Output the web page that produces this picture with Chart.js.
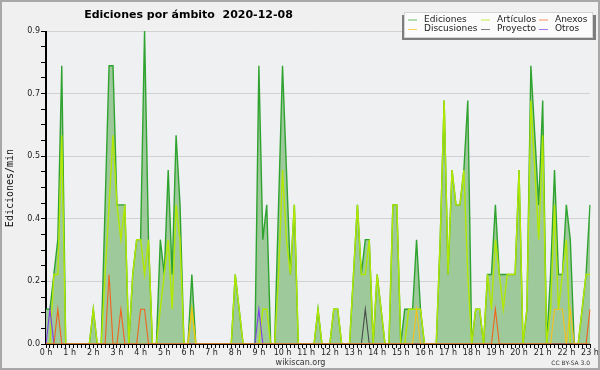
<!DOCTYPE html>
<html>
<head>
<meta charset="utf-8">
<script src="https://cdn.jsdelivr.net/npm/chart.js@4.4.1/dist/chart.umd.min.js"></script>
<style>
  html, body { margin: 0; padding: 0; background: #f0f0f0; }
  canvas { display: block; }
</style>
</head>
<body>
<canvas id="edicionesChart" width="600" height="370"></canvas>
<script>
const chartTitle = "Ediciones por ámbito  2020-12-08";
const yAxisTitle = "Ediciones/min";
const hourLabels = ['0 h', '1 h', '2 h', '3 h', '4 h', '5 h', '6 h', '7 h', '8 h', '9 h', '10 h', '11 h',
  '12 h', '13 h', '14 h', '15 h', '16 h', '17 h', '18 h', '19 h', '20 h', '21 h', '22 h', '23 h'];
const seriesNames = ['Ediciones', 'Artículos', 'Anexos', 'Discusiones', 'Proyecto', 'Otros'];

// una muestra cada 10 minutos, 0:00 -> 23:00 (ediciones por minuto)
const ediciones = [
  0.1, 0.1, 0.2, 0.3, 0.8, 0,   0, 0, 0, 0, 0, 0,
  0.1, 0, 0, 0.4, 0.8, 0.8,     0.4, 0.4, 0.4, 0, 0.2, 0.3,
  0.3, 0.9, 0.3, 0, 0, 0.3,     0.2, 0.5, 0.2, 0.6, 0.4, 0,
  0, 0.2, 0, 0, 0, 0,           0, 0, 0, 0, 0, 0,
  0.2, 0.1, 0, 0, 0, 0,         0.8, 0.3, 0.4, 0, 0, 0.4,
  0.8, 0.5, 0.2, 0.4, 0, 0,     0, 0, 0, 0.1, 0, 0,
  0, 0.1, 0.1, 0, 0, 0,         0.2, 0.4, 0.2, 0.3, 0.3, 0,
  0.2, 0.1, 0, 0, 0.4, 0.4,     0, 0.1, 0.1, 0.1, 0.3, 0.1,
  0, 0, 0, 0, 0.3, 0.7,         0.2, 0.5, 0.4, 0.4, 0.5, 0.7,
  0, 0.1, 0.1, 0, 0.2, 0.2,     0.4, 0.2, 0.2, 0.2, 0.2, 0.2,
  0.5, 0, 0.1, 0.8, 0.6, 0.4,   0.7, 0, 0.2, 0.5, 0.2, 0.2,
  0.4, 0.3, 0, 0, 0.1, 0.2, 0.4
];
const articulos = [
  0, 0, 0.2, 0.2, 0.6, 0,       0, 0, 0, 0, 0, 0,
  0.1, 0, 0, 0.2, 0.4, 0.6,     0.4, 0.3, 0.4, 0, 0.2, 0.3,
  0.3, 0.2, 0.3, 0, 0, 0.1,     0.2, 0.3, 0.1, 0.4, 0.3, 0,
  0, 0.1, 0, 0, 0, 0,           0, 0, 0, 0, 0, 0,
  0.2, 0.1, 0, 0, 0, 0,         0, 0.1, 0.1, 0, 0, 0.2,
  0.5, 0.3, 0.2, 0.4, 0, 0,     0, 0, 0, 0.1, 0, 0,
  0, 0.1, 0.1, 0, 0, 0,         0.2, 0.4, 0.2, 0.2, 0.3, 0,
  0.2, 0.1, 0, 0, 0.4, 0.4,     0, 0, 0.1, 0.1, 0.1, 0.1,
  0, 0, 0, 0, 0.3, 0.7,         0.2, 0.5, 0.4, 0.4, 0.5, 0.2,
  0, 0.1, 0.1, 0, 0.2, 0.1,     0.3, 0.2, 0.1, 0.2, 0.2, 0.2,
  0.5, 0, 0.1, 0.7, 0.5, 0.3,   0.6, 0, 0.1, 0.4, 0.1, 0.2,
  0.3, 0, 0, 0, 0.1, 0.2, 0.2
];
const anexos = [
  0, 0, 0, 0.1, 0, 0,   0, 0, 0, 0, 0, 0,
  0, 0, 0, 0, 0.2, 0,   0, 0.1, 0, 0, 0, 0,
  0.1, 0.1, 0, 0, 0, 0, 0, 0, 0, 0, 0, 0,
  0, 0, 0, 0, 0, 0,     0, 0, 0, 0, 0, 0,
  0, 0, 0, 0, 0, 0,     0, 0, 0, 0, 0, 0,
  0, 0, 0, 0, 0, 0,     0, 0, 0, 0, 0, 0,
  0, 0, 0, 0, 0, 0,     0, 0, 0, 0, 0, 0,
  0, 0, 0, 0, 0, 0,     0, 0, 0, 0, 0, 0,
  0, 0, 0, 0, 0, 0,     0, 0, 0, 0, 0, 0,
  0, 0, 0, 0, 0, 0,     0.1, 0, 0, 0, 0, 0,
  0, 0, 0, 0, 0, 0,     0, 0, 0, 0, 0, 0,
  0, 0, 0, 0, 0, 0, 0.1
];
const discusiones = [
  0, 0, 0, 0, 0, 0,     0, 0, 0, 0, 0, 0,
  0, 0, 0, 0, 0, 0,     0, 0, 0, 0, 0, 0,
  0, 0, 0, 0, 0, 0,     0, 0, 0, 0, 0, 0,
  0, 0.1, 0, 0, 0, 0,   0, 0, 0, 0, 0, 0,
  0, 0, 0, 0, 0, 0,     0, 0, 0, 0, 0, 0,
  0, 0, 0, 0, 0, 0,     0, 0, 0, 0, 0, 0,
  0, 0, 0, 0, 0, 0,     0, 0, 0, 0, 0, 0,
  0, 0, 0, 0, 0, 0,     0, 0, 0, 0, 0.1, 0,
  0, 0, 0, 0, 0, 0,     0, 0, 0, 0, 0, 0,
  0, 0, 0, 0, 0, 0,     0, 0, 0, 0, 0, 0,
  0, 0, 0, 0, 0, 0,     0, 0, 0, 0.1, 0.1, 0.1,
  0, 0.1, 0, 0, 0, 0, 0
];
const proyecto = [
  0, 0, 0, 0, 0, 0,     0, 0, 0, 0, 0, 0,
  0, 0, 0, 0, 0, 0,     0, 0, 0, 0, 0, 0,
  0, 0, 0, 0, 0, 0,     0, 0, 0, 0, 0, 0,
  0, 0, 0, 0, 0, 0,     0, 0, 0, 0, 0, 0,
  0, 0, 0, 0, 0, 0,     0, 0, 0, 0, 0, 0,
  0, 0, 0, 0, 0, 0,     0, 0, 0, 0, 0, 0,
  0, 0, 0, 0, 0, 0,     0, 0, 0, 0.1, 0, 0,
  0, 0, 0, 0, 0, 0,     0, 0, 0, 0, 0, 0,
  0, 0, 0, 0, 0, 0,     0, 0, 0, 0, 0, 0,
  0, 0, 0, 0, 0, 0,     0, 0, 0, 0, 0, 0,
  0, 0, 0, 0, 0, 0,     0, 0, 0, 0, 0, 0,
  0, 0, 0, 0, 0, 0, 0
];
const otros = [
  0, 0.1, 0, 0, 0, 0,   0, 0, 0, 0, 0, 0,
  0, 0, 0, 0, 0, 0,     0, 0, 0, 0, 0, 0,
  0, 0, 0, 0, 0, 0,     0, 0, 0, 0, 0, 0,
  0, 0, 0, 0, 0, 0,     0, 0, 0, 0, 0, 0,
  0, 0, 0, 0, 0, 0,     0.1, 0, 0, 0, 0, 0,
  0, 0, 0, 0, 0, 0,     0, 0, 0, 0, 0, 0,
  0, 0, 0, 0, 0, 0,     0, 0, 0, 0, 0, 0,
  0, 0, 0, 0, 0, 0,     0, 0, 0, 0, 0, 0,
  0, 0, 0, 0, 0, 0,     0, 0, 0, 0, 0, 0,
  0, 0, 0, 0, 0, 0,     0, 0, 0, 0, 0, 0,
  0, 0, 0, 0, 0, 0,     0, 0, 0, 0, 0, 0,
  0, 0, 0, 0, 0, 0, 0
];

// eje Y: 0 -> 0.9, 5 divisiones con 4 subdivisiones
const yMax = 0.9;
const yDivisions = 5;
const ySubdivisions = 4;
const pointsPerHour = 6;

const colores = ['#2fa32f', '#b2e800', '#f0641e', '#f5c21b', '#4a4a4a', '#7f3fe8'];

const times = ediciones.map((_, i) => {
  const min = i * 10;
  return String(Math.floor(min / 60)).padStart(2, '0') + ':' + String(min % 60).padStart(2, '0');
});

const fondoPlugin = {
  id: 'fondo',
  beforeDraw(chart) {
    const { ctx, chartArea: a } = chart;
    ctx.save();
    ctx.fillStyle = '#f0f0f0';
    ctx.fillRect(0, 0, chart.width, chart.height);
    ctx.fillStyle = '#eef0f2';
    ctx.fillRect(a.left, a.top, a.right - a.left, a.bottom - a.top);
    ctx.restore();
  },
  afterDatasetsDraw(chart) {
    // los ejes quedan encima de las líneas en cero
    const { ctx, chartArea: a } = chart;
    ctx.save();
    ctx.strokeStyle = '#000';
    ctx.lineWidth = 1;
    ctx.beginPath();
    ctx.moveTo(Math.round(a.left) - 0.5, Math.round(a.top));
    ctx.lineTo(Math.round(a.left) - 0.5, Math.round(a.bottom) + 0.5);
    ctx.lineTo(Math.round(a.right), Math.round(a.bottom) + 0.5);
    ctx.stroke();
    ctx.restore();
  },
  afterDraw(chart) {
    const ctx = chart.ctx;
    ctx.save();
    // título
    ctx.fillStyle = '#000';
    ctx.font = 'bold 11px "DejaVu Sans"';
    ctx.textAlign = 'center';
    ctx.textBaseline = 'alphabetic';
    ctx.fillText(chartTitle, 188.5, 17.5);

    // título eje Y
    ctx.save();
    ctx.translate(10, 188);
    ctx.rotate(-Math.PI / 2);
    ctx.font = '10px "DejaVu Sans Mono"';
    ctx.textAlign = 'center';
    ctx.textBaseline = 'middle';
    ctx.fillStyle = '#111';
    ctx.fillText(yAxisTitle, 0, 0);
    ctx.restore();

    // leyenda
    ctx.fillStyle = '#7d7d7d';
    ctx.fillRect(402, 15, 194, 25);
    ctx.fillStyle = '#fbfbfb';
    ctx.fillRect(404, 12.5, 189, 25);
    ctx.strokeStyle = '#d4d4d4';
    ctx.lineWidth = 1;
    ctx.strokeRect(404.5, 12.5, 188, 25);
    const colX = [408, 481, 539];
    const rowY = [19.5, 29];
    ctx.font = '9px "DejaVu Sans"';
    ctx.textAlign = 'left';
    ctx.textBaseline = 'middle';
    chart.data.datasets.forEach((ds, i) => {
      const x = colX[i % 3];
      const y = rowY[Math.floor(i / 3)];
      ctx.strokeStyle = ds.borderColor;
      ctx.globalAlpha = 0.7;
      ctx.beginPath();
      ctx.moveTo(x, y + 0.5);
      ctx.lineTo(x + 9, y + 0.5);
      ctx.stroke();
      ctx.globalAlpha = 1;
      ctx.fillStyle = '#222';
      ctx.fillText(ds.label, x + 16, y);
    });

    // pie
    ctx.fillStyle = '#333';
    ctx.font = '8px "DejaVu Sans"';
    ctx.textAlign = 'center';
    ctx.textBaseline = 'alphabetic';
    ctx.fillText('wikiscan.org', 300.5, 364.5);
    ctx.font = '6px "DejaVu Sans"';
    ctx.textAlign = 'right';
    ctx.fillText('CC BY-SA 3.0', 590, 365);

    // marco
    ctx.strokeStyle = '#a8a8a8';
    ctx.lineWidth = 2;
    ctx.strokeRect(1, 1, chart.width - 2, chart.height - 2);
    ctx.restore();
  }
};

const series = [ediciones, articulos, anexos, discusiones, proyecto, otros];

new Chart(document.getElementById('edicionesChart'), {
  type: 'line',
  data: {
    labels: times,
    datasets: series.map((values, i) => ({
      label: seriesNames[i],
      data: values,
      borderColor: colores[i],
      backgroundColor: i === 0 ? '#9dc99b' : colores[i],
      borderWidth: i < 2 ? 1.4 : 1.1,
      fill: i === 0 ? 'origin' : false,
      pointRadius: 0,
      tension: 0,
      order: i === 0 ? 2 : (i === 1 ? 1 : 0)
    }))
  },
  options: {
    responsive: false,
    animation: false,
    devicePixelRatio: 1,
    layout: { padding: { top: 31, right: 10, left: 0, bottom: 0 } },
    plugins: {
      legend: { display: false },
      title: { display: false },
      tooltip: { enabled: false },
      filler: { drawTime: 'beforeDatasetsDraw' }
    },
    scales: {
      x: {
        type: 'category',
        offset: false,
        afterFit(scale) { scale.height = 26; },
        grid: { color: 'rgba(0,0,0,0)', tickColor: '#000', tickLength: 4, offset: false },
        border: { color: '#000', width: 1 },
        ticks: {
          autoSkip: false,
          maxRotation: 0,
          minRotation: 0,
          padding: 0,
          color: '#222',
          font: { family: 'DejaVu Sans', size: 8 },
          callback: (value, index) => index % pointsPerHour === 0 ? hourLabels[index / pointsPerHour] : ''
        }
      },
      y: {
        type: 'linear',
        min: 0,
        max: yMax,
        afterFit(scale) { scale.width = 46; },
        afterBuildTicks(scale) {
          const n = yDivisions * ySubdivisions;
          scale.ticks = Array.from({ length: n + 1 }, (_, k) => ({ value: yMax * k / n }));
        },
        grid: {
          color: (c) => (c.index % ySubdivisions === 0 && c.index > 0) ? '#d2d2d2' : 'rgba(0,0,0,0)',
          tickColor: '#000',
          tickLength: 5
        },
        border: { color: '#000', width: 1 },
        ticks: {
          padding: 1,
          color: '#222',
          font: { family: 'DejaVu Sans', size: 8 },
          callback: (value, index) => index % ySubdivisions === 0 ? value.toFixed(1) : ''
        }
      }
    }
  },
  plugins: [fondoPlugin]
});
</script>
</body>
</html>
